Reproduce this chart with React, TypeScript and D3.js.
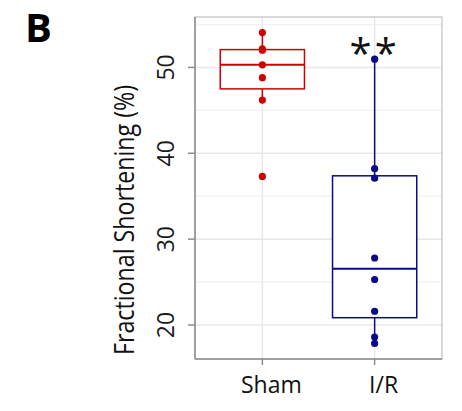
import * as d3 from "d3";

const groups = ["Sham", "I/R"];
const shamValues = [54.06, 52.15, 52.0, 50.3, 48.8, 46.2, 37.3];
const irValues = [50.96, 38.2, 37.1, 27.8, 25.3, 21.6, 18.6, 17.85];
const colors = ["#d10000", "#0a0a8c"];
const yTicks = [20, 30, 40, 50];
const yMinor = [25, 35, 45, 55];

const W = 462;
const H = 411;
const panel = { left: 195, right: 442, top: 17, bottom: 359 };
const font = "'Open Sans', 'Noto Sans', sans-serif";

const boxStats = (vals: number[]) => {
  const s = vals.slice().sort(d3.ascending);
  const q1 = d3.quantile(s, 0.25)!;
  const med = d3.quantile(s, 0.5)!;
  const q3 = d3.quantile(s, 0.75)!;
  const iqr = q3 - q1;
  const lo = d3.min(s.filter((v) => v >= q1 - 1.5 * iqr))!;
  const hi = d3.max(s.filter((v) => v <= q3 + 1.5 * iqr))!;
  return { q1, med, q3, lo, hi };
};

export default function App() {
  const all = [...shamValues, ...irValues];
  const [mn, mx] = d3.extent(all) as [number, number];
  const pad = (mx - mn) * 0.05;
  const y = d3
    .scaleLinear()
    .domain([mn - pad, mx + pad])
    .range([panel.bottom, panel.top]);
  const x = d3
    .scalePoint()
    .domain(groups)
    .range([panel.left, panel.right])
    .padding(0.6);
  const boxW = x.step() * 0.75;
  const data = [shamValues, irValues];

  return (
    <svg
      width={W}
      height={H}
      style={{ position: "absolute", left: 0, top: 0, background: "#fff" }}
    >
      {/* grid */}
      {yMinor.map((t) => (
        <line
          key={"m" + t}
          x1={panel.left}
          x2={panel.right}
          y1={y(t)}
          y2={y(t)}
          stroke="#f2f2f2"
          strokeWidth={1.5}
        />
      ))}
      {yTicks.map((t) => (
        <line
          key={"g" + t}
          x1={panel.left}
          x2={panel.right}
          y1={y(t)}
          y2={y(t)}
          stroke="#e8e8e8"
          strokeWidth={1.5}
        />
      ))}
      {groups.map((g) => (
        <line
          key={"v" + g}
          x1={x(g)}
          x2={x(g)}
          y1={panel.top}
          y2={panel.bottom}
          stroke="#e8e8e8"
          strokeWidth={1.5}
        />
      ))}
      <rect
        x={panel.left}
        y={panel.top}
        width={panel.right - panel.left}
        height={panel.bottom - panel.top}
        fill="none"
        stroke="#b3b3b3"
      />
      <line x1={panel.left} x2={panel.left} y1={panel.top} y2={panel.bottom} stroke="#8c8c8c" strokeWidth={1.5} />
      <line x1={panel.left} x2={panel.right} y1={panel.bottom} y2={panel.bottom} stroke="#8c8c8c" strokeWidth={1.5} />

      {/* boxes */}
      {data.map((vals, i) => {
        const s = boxStats(vals);
        const cx = x(groups[i])!;
        const c = colors[i];
        return (
          <g key={groups[i]} stroke={c} strokeWidth={1.5}>
            <line x1={cx} x2={cx} y1={y(s.hi)} y2={y(s.q3)} />
            <line x1={cx} x2={cx} y1={y(s.q1)} y2={y(s.lo)} />
            <rect
              x={cx - boxW / 2}
              y={y(s.q3)}
              width={boxW}
              height={y(s.q1) - y(s.q3)}
              fill="#fff"
            />
            <line x1={cx - boxW / 2} x2={cx + boxW / 2} y1={y(s.med)} y2={y(s.med)} strokeWidth={2} />
            {vals.map((v, j) => (
              <circle key={j} cx={cx} cy={y(v)} r={3.6} fill={c} stroke="none" />
            ))}
          </g>
        );
      })}

      {/* y axis */}
      {yTicks.map((t) => (
        <g key={"t" + t}>
          <line x1={panel.left - 7} x2={panel.left} y1={y(t)} y2={y(t)} stroke="#8c8c8c" strokeWidth={1.5} />
          <text
            transform={`translate(174,${y(t)}) rotate(-90)`}
            textAnchor="middle"
            fontFamily={font}
            fontSize={23}
            fill="#1a1a1a"
          >
            {t}
          </text>
        </g>
      ))}
      <text
        transform={`translate(134,${(85 + 355) / 2}) rotate(-90)`}
        textAnchor="middle"
        fontFamily={font}
        fontSize={27}
        textLength={270}
        lengthAdjust="spacingAndGlyphs"
        fill="#111"
      >
        Fractional Shortening (%)
      </text>

      {/* x axis */}
      {groups.map((g) => (
        <g key={"x" + g}>
          <line x1={x(g)} x2={x(g)} y1={panel.bottom} y2={panel.bottom + 6} stroke="#8c8c8c" strokeWidth={1.5} />
          <text
            x={(x(g) ?? 0) + 9}
            y={393}
            textAnchor="middle"
            fontFamily={font}
            fontSize={23}
            fill="#111"
          >
            {g}
          </text>
        </g>
      ))}

      <text
        x={x("I/R")}
        y={68}
        textAnchor="middle"
        fontFamily={font}
        fontSize={40}
        letterSpacing={3}
        fill="#111"
      >
        **
      </text>
      <text x={25} y={42} fontFamily={font} fontWeight="bold" fontSize={40} fill="#000">
        B
      </text>
    </svg>
  );
}
